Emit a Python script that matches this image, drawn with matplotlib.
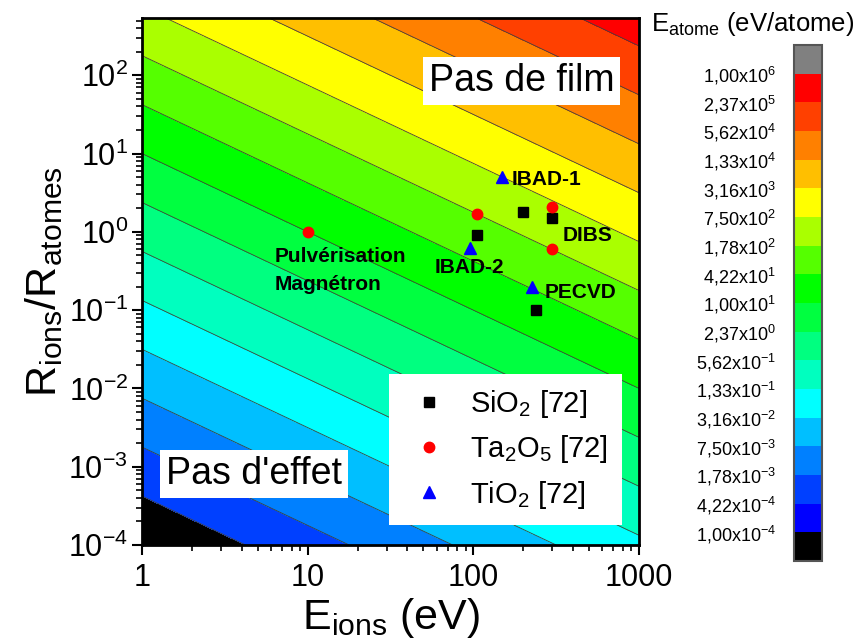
import numpy as np
import matplotlib
matplotlib.use("Agg")
import matplotlib.pyplot as plt
from matplotlib.colors import ListedColormap, BoundaryNorm
from matplotlib.cm import ScalarMappable
from matplotlib.ticker import LogLocator, FuncFormatter, NullFormatter

plt.rcParams["font.family"] = ["Liberation Sans", "DejaVu Sans"]
plt.rcParams["mathtext.fontset"] = "custom"
plt.rcParams["mathtext.rm"] = "Liberation Sans"
plt.rcParams["mathtext.it"] = "Liberation Sans:italic"
plt.rcParams["mathtext.bf"] = "Liberation Sans:bold"
plt.rcParams["mathtext.default"] = "regular"

# contour levels of E_atome (eV/atome) and their band colours (bottom -> top)
levels = [1.00e-4, 4.22e-4, 1.78e-3, 7.50e-3, 3.16e-2, 1.33e-1, 5.62e-1,
          2.37e0, 1.00e1, 4.22e1, 1.78e2, 7.50e2, 3.16e3, 1.33e4, 5.62e4,
          2.37e5, 1.00e6]
level_labels = ["1,00x10$^{-4}$", "4,22x10$^{-4}$", "1,78x10$^{-3}$", "7,50x10$^{-3}$",
                "3,16x10$^{-2}$", "1,33x10$^{-1}$", "5,62x10$^{-1}$", "2,37x10$^{0}$",
                "1,00x10$^{1}$", "4,22x10$^{1}$", "1,78x10$^{2}$", "7,50x10$^{2}$",
                "3,16x10$^{3}$", "1,33x10$^{4}$", "5,62x10$^{4}$", "2,37x10$^{5}$",
                "1,00x10$^{6}$"]
band_colors = ["#0000ff", "#0040ff", "#0080ff", "#00bfff", "#00ffff", "#00ffbf",
               "#00ff80", "#00ff40", "#00ff00", "#55ff00", "#aaff00", "#ffff00",
               "#ffbf00", "#ff8000", "#ff4000", "#ff0000"]

# coarse grid of the map: E_atome = E_ions * R_ions/R_atomes
e_grid = np.logspace(0, 3, 10)
r_grid = np.logspace(-4, 3, 22)

# literature points [72]
sio2_e = [105, 200, 300, 240]
sio2_r = [0.9, 1.8, 1.5, 0.1]
ta2o5_e = [10, 105, 300, 300]
ta2o5_r = [1.0, 1.7, 2.1, 0.6]
tio2_e = [150, 95, 225]
tio2_r = [5.0, 0.62, 0.2]

# process names: (text, x, y)
process_labels = [("IBAD-1", 171, 4.6), ("DIBS", 347, 0.91), ("IBAD-2", 58.7, 0.347),
                  ("PECVD", 270, 0.166), ("Pulvérisation", 6.35, 0.49),
                  ("Magnétron", 6.35, 0.21)]

fig = plt.figure(figsize=(8.67, 6.41), dpi=100)
ax = fig.add_axes([0.1638, 0.1498, 0.5732, 0.8222])

EE, RR = np.meshgrid(e_grid, r_grid)
ZZ = EE * RR

plot_cmap = ListedColormap(["#000000"] + band_colors[1:])
plot_cmap.set_under("#000000")
plot_cmap.set_over("#808080")
norm = BoundaryNorm(levels, len(band_colors))
ax.contourf(EE, RR, ZZ, levels=levels, cmap=plot_cmap, norm=norm, extend="both")
ax.contour(EE, RR, ZZ, levels=levels, colors="#404040", linewidths=0.6)

ax.plot(sio2_e, sio2_r, "s", color="black", ms=6.5, ls="none", label="SiO$_2$ [72]")
ax.plot(ta2o5_e, ta2o5_r, "o", color="red", ms=7.5, ls="none", label="Ta$_2$O$_5$ [72]")
ax.plot(tio2_e, tio2_r, "^", color="blue", ms=8, ls="none", label="TiO$_2$ [72]")

for txt, x, y in process_labels:
    ax.text(x, y, txt, fontsize=15, fontweight="bold", ha="left", va="center")

ax.set_xscale("log")
ax.set_yscale("log")
ax.set_xlim(1, 1000)
ax.set_ylim(1e-4, 540)

ax.xaxis.set_major_locator(LogLocator(base=10, numticks=10))
ax.yaxis.set_major_locator(LogLocator(base=10, numticks=20))
ax.xaxis.set_minor_locator(LogLocator(base=10, subs=np.arange(2, 10), numticks=40))
ax.yaxis.set_minor_locator(LogLocator(base=10, subs=np.arange(2, 10), numticks=40))
ax.xaxis.set_major_formatter(FuncFormatter(lambda v, p: "%g" % v))
ax.yaxis.set_major_formatter(FuncFormatter(lambda v, p: "$10^{%d}$" % round(np.log10(v))))
ax.xaxis.set_minor_formatter(NullFormatter())
ax.yaxis.set_minor_formatter(NullFormatter())
ax.tick_params(which="major", direction="out", length=7, width=1.5, labelsize=22)
ax.tick_params(which="minor", direction="out", length=4, width=1.2)
ax.tick_params(axis="x", which="major", pad=6)
ax.tick_params(axis="y", which="major", pad=3)
for s in ax.spines.values():
    s.set_linewidth(2)

ax.set_xlabel("E$_{ions}$ (eV)", fontsize=31, labelpad=2)
ax.set_ylabel("R$_{ions}$/R$_{atomes}$", fontsize=31, labelpad=2)

box = dict(facecolor="white", edgecolor="none", pad=4)
ax.text(0.7636, 0.8805, "Pas de film", transform=ax.transAxes, fontsize=27,
        ha="center", va="center", bbox=box)
ax.text(0.2254, 0.1347, "Pas d'effet", transform=ax.transAxes, fontsize=27,
        ha="center", va="center", bbox=box)

leg = ax.legend(loc="lower right", bbox_to_anchor=(0.996, 0.01), fontsize=21,
                frameon=True, fancybox=False, edgecolor="none", framealpha=1,
                handletextpad=0.55, labelspacing=0.45, borderpad=0.5, handlelength=1.75)

# colour scale
cax = fig.add_axes([0.9158, 0.1248, 0.0323, 0.805])
cb_cmap = ListedColormap(band_colors)
cb_cmap.set_under("#000000")
cb_cmap.set_over("#808080")
cb = fig.colorbar(ScalarMappable(norm=BoundaryNorm(levels, len(band_colors)), cmap=cb_cmap),
                  cax=cax, extend="both", extendrect=True, extendfrac=1 / 16,
                  ticks=levels)
cb.ax.yaxis.set_ticks_position("left")
cb.ax.set_yticklabels(level_labels)
cb.ax.tick_params(length=0, labelsize=13, pad=13)
cb.outline.set_edgecolor("#555555")
cb.outline.set_linewidth(1.5)
fig.text(0.868, 0.962, "E$_{atome}$ (eV/atome)", fontsize=18.5, ha="center", va="center")

fig.savefig("out.png", dpi=100)
